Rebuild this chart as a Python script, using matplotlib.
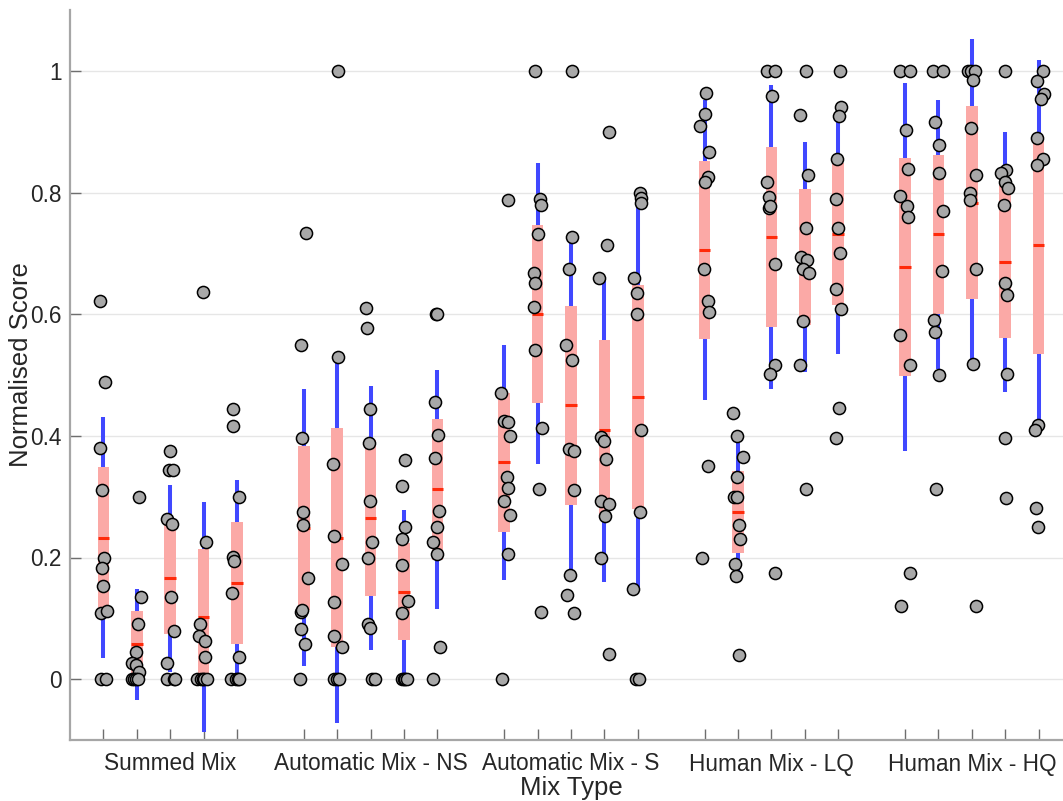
import matplotlib
matplotlib.use("Agg")
import matplotlib.pyplot as plt
import numpy as np

plt.rcParams['font.family'] = ['Liberation Sans', 'DejaVu Sans']

# scores per listener, 5 conditions in each mix type group
groups = ['Summed Mix', 'Automatic Mix - NS', 'Automatic Mix - S',
          'Human Mix - LQ', 'Human Mix - HQ']

summed = [
    [0.621, 0.488, 0.380, 0.311, 0.200, 0.183, 0.153, 0.108, 0.112, 0, 0],
    [0.299, 0.135, 0.090, 0.045, 0.027, 0.024, 0.012, 0, 0, 0, 0],
    [0.375, 0.344, 0.344, 0.263, 0.255, 0.135, 0.079, 0.027, 0, 0, 0],
    [0.636, 0.226, 0.091, 0.071, 0.063, 0.037, 0, 0, 0, 0, 0],
    [0.444, 0.416, 0.300, 0.201, 0.195, 0.141, 0.036, 0, 0, 0, 0],
]
auto_ns = [
    [0.733, 0.549, 0.397, 0.274, 0.253, 0.167, 0.111, 0.113, 0.082, 0.057, 0],
    [1.0, 0.530, 0.354, 0.236, 0.189, 0.127, 0.071, 0.053, 0, 0, 0],
    [0.610, 0.577, 0.444, 0.389, 0.293, 0.225, 0.200, 0.091, 0.084, 0, 0],
    [0.360, 0.317, 0.250, 0.231, 0.188, 0.129, 0.108, 0, 0, 0, 0],
    [0.600, 0.600, 0.456, 0.402, 0.364, 0.276, 0.250, 0.225, 0.205, 0.053, 0],
]
auto_s = [
    [0.787, 0.471, 0.425, 0.422, 0.400, 0.333, 0.314, 0.293, 0.270, 0.206, 0],
    [1.0, 0.790, 0.780, 0.731, 0.667, 0.651, 0.612, 0.541, 0.413, 0.313, 0.111],
    [1.0, 0.727, 0.674, 0.549, 0.524, 0.379, 0.375, 0.311, 0.172, 0.138, 0.108],
    [0.900, 0.713, 0.660, 0.398, 0.391, 0.362, 0.293, 0.288, 0.268, 0.200, 0.041],
    [0.800, 0.791, 0.783, 0.660, 0.635, 0.600, 0.410, 0.274, 0.149, 0, 0],
]
human_lq = [
    [0.963, 0.929, 0.910, 0.867, 0.825, 0.817, 0.674, 0.622, 0.603, 0.351, 0.200],
    [0.438, 0.400, 0.365, 0.333, 0.300, 0.300, 0.253, 0.230, 0.189, 0.170, 0.040],
    [1.0, 1.0, 0.959, 0.817, 0.793, 0.774, 0.778, 0.682, 0.517, 0.501, 0.174],
    [1.0, 0.928, 0.828, 0.742, 0.694, 0.689, 0.675, 0.667, 0.588, 0.516, 0.313],
    [1.0, 0.941, 0.925, 0.855, 0.790, 0.742, 0.700, 0.641, 0.609, 0.446, 0.397],
]
human_hq = [
    [1.0, 1.0, 0.902, 0.839, 0.794, 0.778, 0.759, 0.565, 0.516, 0.174, 0.121],
    [1.0, 1.0, 0.916, 0.878, 0.832, 0.770, 0.671, 0.591, 0.571, 0.500, 0.313],
    [1.0, 1.0, 1.0, 0.985, 0.906, 0.828, 0.800, 0.787, 0.674, 0.518, 0.121],
    [1.0, 0.837, 0.832, 0.818, 0.807, 0.779, 0.651, 0.631, 0.501, 0.397, 0.297],
    [1.0, 0.984, 0.962, 0.953, 0.890, 0.855, 0.846, 0.418, 0.409, 0.281, 0.250],
]

# horizontal jitter of the points
jit_summed = [
    [-0.10, 0.04, -0.10, -0.05, 0.02, -0.05, -0.01, -0.08, 0.12, -0.08, 0.08],
    [0.07, 0.13, 0.04, -0.02, -0.14, -0.02, 0.06, -0.15, -0.08, -0.02, 0.03],
    [-0.02, -0.05, 0.08, -0.10, 0.06, 0.01, 0.11, -0.11, -0.10, 0.10, 0.13],
    [-0.03, 0.08, -0.12, -0.14, 0.04, 0.03, -0.19, -0.07, -0.02, 0.02, 0.10],
    [-0.12, -0.13, 0.06, -0.12, -0.10, -0.14, 0.06, -0.17, -0.02, 0.03, 0.05],
]
jit_auto_ns = [
    [0.08, -0.07, -0.05, -0.03, -0.03, 0.13, -0.07, -0.04, -0.08, 0.04, -0.10],
    [0.01, 0.03, -0.13, -0.10, 0.14, -0.10, -0.09, 0.13, -0.10, -0.02, 0.06],
    [-0.14, -0.11, -0.03, -0.05, -0.02, 0.05, -0.07, -0.09, -0.02, 0.03, 0.13],
    [0.04, -0.05, 0.02, -0.05, -0.05, 0.11, -0.05, -0.06, -0.01, 0.03, 0.08],
    [-0.03, -0.01, -0.07, 0.03, -0.07, 0.06, -0.02, -0.14, -0.02, 0.08, -0.12],
]
jit_auto_s = [
    [0.10, -0.10, 0.00, 0.10, 0.16, 0.07, 0.11, 0.00, 0.16, 0.10, -0.06],
    [-0.09, 0.07, 0.09, 0.01, -0.12, -0.09, -0.12, -0.09, 0.14, 0.05, 0.11],
    [0.03, 0.02, -0.05, -0.14, 0.02, -0.05, 0.08, 0.10, -0.02, -0.12, 0.09],
    [0.14, 0.07, -0.15, -0.11, 0.00, 0.05, -0.09, 0.14, 0.03, -0.11, 0.13],
    [0.06, 0.09, 0.11, -0.10, -0.01, -0.01, 0.10, 0.06, -0.14, -0.06, 0.04],
]
jit_human_lq = [
    [0.05, 0.00, -0.14, 0.12, 0.10, 0.02, -0.02, 0.10, 0.14, 0.10, -0.07],
    [-0.14, -0.04, 0.16, -0.02, -0.11, -0.03, 0.04, 0.06, -0.10, -0.07, 0.04],
    [-0.13, 0.10, 0.02, -0.13, -0.08, -0.08, -0.03, 0.10, 0.12, -0.04, 0.12],
    [0.04, -0.14, 0.09, 0.04, -0.10, 0.07, -0.05, 0.13, -0.05, -0.14, 0.04],
    [0.04, 0.08, 0.01, -0.03, -0.08, 0.00, 0.06, -0.08, 0.08, 0.02, -0.08],
]
jit_human_hq = [
    [-0.14, 0.14, 0.02, 0.10, -0.14, 0.05, 0.09, -0.14, 0.14, 0.14, -0.12],
    [-0.15, 0.13, -0.11, 0.03, 0.03, 0.13, 0.10, -0.13, -0.10, 0.01, -0.08],
    [-0.12, -0.02, 0.10, 0.05, -0.01, 0.14, -0.05, -0.05, 0.14, 0.05, 0.14],
    [0.00, 0.03, -0.13, -0.01, 0.07, -0.03, -0.01, 0.04, 0.05, 0.00, 0.03],
    [0.14, -0.05, 0.15, 0.08, -0.06, 0.14, -0.04, -0.01, -0.11, -0.08, -0.01],
]

all_data = [summed, auto_ns, auto_s, human_lq, human_hq]
all_jit = [jit_summed, jit_auto_ns, jit_auto_s, jit_human_lq, jit_human_hq]

fig = plt.figure(figsize=(10.63, 8.01), dpi=100)
# axes run a bit past the right edge of the figure, as in the original
ax = fig.add_axes([70 / 1063, 61 / 801, 1002 / 1063, 730 / 801])

hw = 0.175  # half width of box
xpos = []
for g, grp in enumerate(all_data):
    for b, vals in enumerate(grp):
        x = 6 * g + b + 1
        xpos.append(x)
        v = np.array(vals)
        m = v.mean()
        sd = v.std(ddof=1)
        ci = 1.96 * sd / np.sqrt(len(v))
        # 1 SD line
        ax.plot([x, x], [m - sd, m + sd], color='#4048ff', lw=2.9,
                solid_capstyle='butt', zorder=2)
        # 95% CI box
        ax.fill_between([x - hw, x + hw], m - ci, m + ci, color='#fba9a6',
                        lw=0, zorder=3)
        # mean
        ax.plot([x - hw, x + hw], [m, m], color='#ff2a0a', lw=2.2,
                solid_capstyle='butt', zorder=4)
        ax.scatter(x + np.array(all_jit[g][b]), v, s=76, c='#a8a8a8',
                   edgecolors='black', linewidths=1.1, zorder=5)

ax.set_xlim(0, 30)
ax.set_ylim(-0.1, 1.1)
ax.set_yticks([0, 0.2, 0.4, 0.6, 0.8, 1])
ax.set_yticklabels(['0', '0.2', '0.4', '0.6', '0.8', '1'])
ax.set_xticks(xpos)
ax.set_xticklabels([groups[i // 5] if i % 5 == 2 else '' for i in range(25)])
ax.grid(axis='y', color='#e6e6e6', lw=1)
ax.set_axisbelow(True)

for s in ['top', 'right']:
    ax.spines[s].set_visible(False)
for s in ['left', 'bottom']:
    ax.spines[s].set_color('#a6a6a6')
    ax.spines[s].set_linewidth(1.6)

ax.tick_params(direction='in', length=8, width=1, color='#6e6e6e',
               labelsize=16.3, labelcolor='#262626')
ax.tick_params(axis='x', pad=9)
ax.tick_params(axis='y', pad=6)

ax.set_xlabel('Mix Type', fontsize=18.5, color='#262626', labelpad=0)
ax.set_ylabel('Normalised Score', fontsize=18.5, color='#262626')
ax.yaxis.set_label_coords(-0.037, 0.514)

fig.savefig('out.png', dpi=100)
